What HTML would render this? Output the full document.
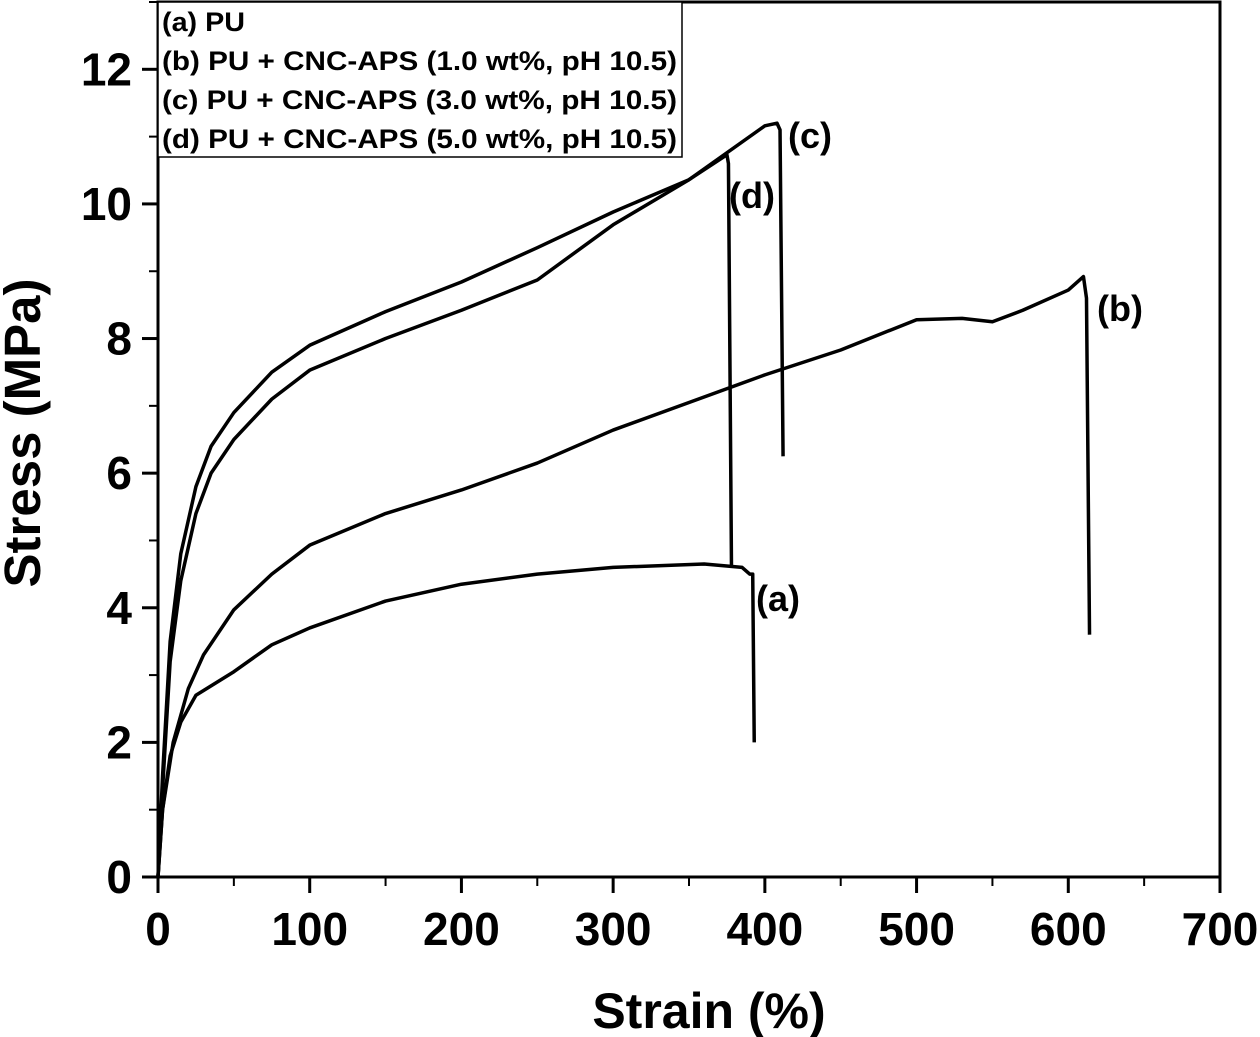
<!DOCTYPE html>
<html><head><meta charset="utf-8"><style>
body{margin:0;background:#fff}
svg{display:block;font-family:"Liberation Sans",Arial,sans-serif;font-weight:bold}
</style></head><body>
<svg id="chart" width="1260" height="1037" viewBox="0 0 1260 1037" xmlns="http://www.w3.org/2000/svg">
<g id="axes"></g>
<g id="series"></g>
<g id="legend">
<rect x="158" y="2" width="524" height="155" fill="#fff" stroke="#000" stroke-width="1.5"/>
<text x="162" y="31" font-size="27" textLength="83" lengthAdjust="spacingAndGlyphs">(a) PU</text>
<text x="162" y="70" font-size="27" textLength="515" lengthAdjust="spacingAndGlyphs">(b) PU + CNC-APS (1.0 wt%, pH 10.5)</text>
<text x="162" y="109" font-size="27" textLength="515" lengthAdjust="spacingAndGlyphs">(c) PU + CNC-APS (3.0 wt%, pH 10.5)</text>
<text x="162" y="148" font-size="27" textLength="515" lengthAdjust="spacingAndGlyphs">(d) PU + CNC-APS (5.0 wt%, pH 10.5)</text>
</g>
<text x="788" y="148" font-size="36">(c)</text>
<text x="729" y="208" font-size="36">(d)</text>
<text x="1097" y="321" font-size="36">(b)</text>
<text x="756" y="611" font-size="36">(a)</text>
<text x="709" y="1028" font-size="50" text-anchor="middle">Strain (%)</text>
<text transform="translate(40,433) rotate(-90)" font-size="51" text-anchor="middle">Stress (MPa)</text>
</svg>
<script>
const xTicks=[0,100,200,300,400,500,600,700];
const yTicks=[0,2,4,6,8,10,12];
const aX=[0,3,8,15,25,50,75,100,150,200,250,300,360,385,390,392,393];
const aY=[0,1.0,1.8,2.3,2.7,3.05,3.45,3.7,4.1,4.35,4.5,4.6,4.65,4.6,4.5,4.5,2.0];
const bX=[0,3,10,20,30,50,75,100,150,200,250,300,350,400,450,500,530,550,570,600,610,612,614];
const bY=[0,1.0,2.0,2.8,3.3,3.97,4.5,4.93,5.4,5.75,6.15,6.64,7.05,7.46,7.83,8.28,8.3,8.25,8.42,8.72,8.92,8.6,3.6];
const cX=[0,3,8,15,25,35,50,75,100,150,200,250,300,350,400,408,410,412];
const cY=[0,1.5,3.5,4.8,5.8,6.4,6.9,7.5,7.9,8.4,8.84,9.35,9.88,10.36,11.16,11.2,11.1,6.25];
const dX=[0,3,8,15,25,35,50,75,100,150,200,250,300,350,375,376,378];
const dY=[0,1.3,3.2,4.4,5.4,6.0,6.5,7.1,7.53,8.0,8.42,8.87,9.69,10.36,10.73,10.6,4.6];
const NS="http://www.w3.org/2000/svg";
const X0=158,X1=1220,Y0=877,Y1=2;
const sx=v=>X0+(v/700)*(X1-X0);
const sy=v=>Y0-(v/13)*(Y0-Y1);
function mk(tag,attrs,parent){const e=document.createElementNS(NS,tag);for(const k in attrs)e.setAttribute(k,attrs[k]);parent.appendChild(e);return e;}
const ax=document.getElementById('axes');
const frame=mk('rect',{x:X0,y:Y1,width:X1-X0,height:Y0-Y1,fill:'none',stroke:'#000','stroke-width':3},ax);


xTicks.forEach((t,i)=>{
 const tk=mk('line',{x1:sx(t),x2:sx(t),y1:Y0,y2:Y0+16,stroke:'#000','stroke-width':3},ax);
 
 
 if(i<xTicks.length-1){const m=mk('line',{x1:sx(t+50),x2:sx(t+50),y1:Y0,y2:Y0+9,stroke:'#000','stroke-width':2},ax);
 
 }
 const lb=mk('text',{x:sx(t),y:Y0+68,'font-size':46,'text-anchor':'middle'},ax);lb.textContent=t;
 
 
});
yTicks.forEach(t=>{
 const tk=mk('line',{x1:X0-16,x2:X0,y1:sy(t),y2:sy(t),stroke:'#000','stroke-width':3},ax);
 
 
 const m=mk('line',{x1:X0-9,x2:X0,y1:sy(t+1),y2:sy(t+1),stroke:'#000','stroke-width':2},ax);
 
 
 const lb=mk('text',{x:X0-26,y:sy(t)+16,'font-size':46,'text-anchor':'end'},ax);lb.textContent=t;
 
 
});
const sg=document.getElementById('series');
[[aX,aY,'a'],[bX,bY,'b'],[cX,cY,'c'],[dX,dY,'d']].forEach(([xs,ys,n])=>{
 const p=mk('polyline',{points:xs.map((x,i)=>sx(x)+','+sy(ys[i])).join(' '),fill:'none',stroke:'#000','stroke-width':3.5,'stroke-linejoin':'round'},sg);
 
 
});
</script>
</body></html>
